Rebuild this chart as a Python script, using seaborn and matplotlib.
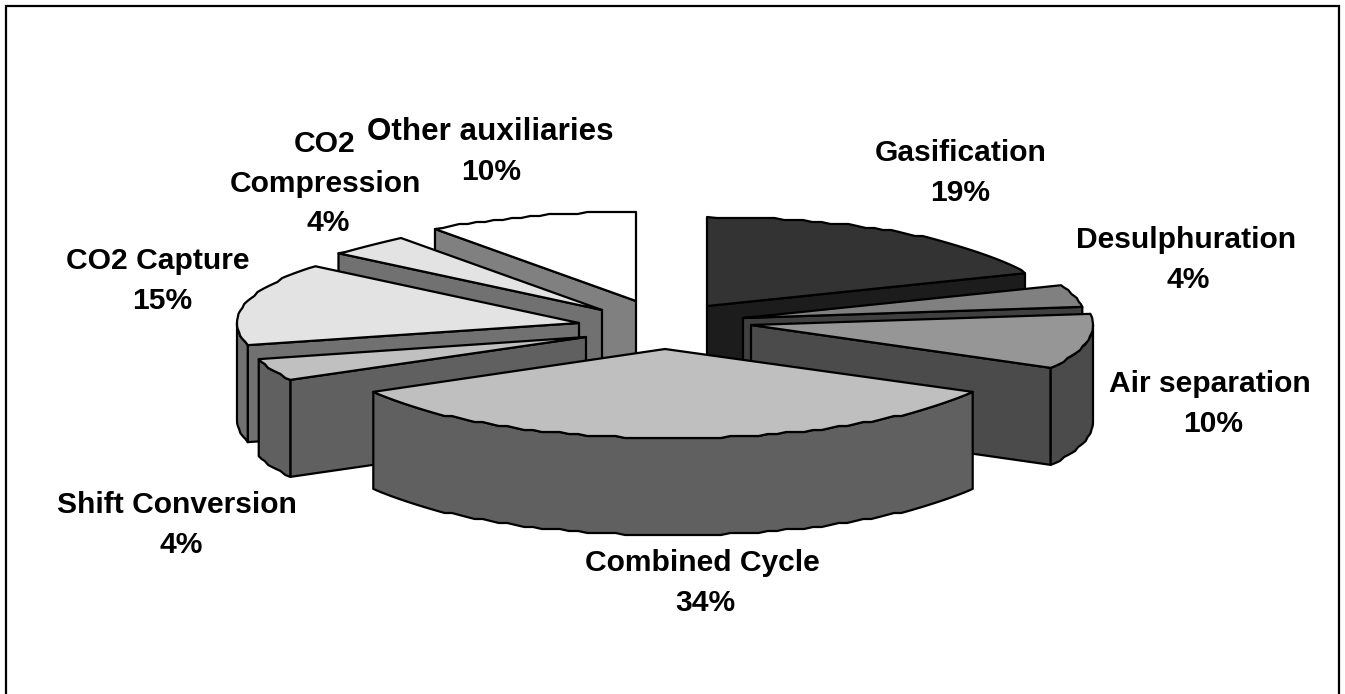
import numpy as np
import matplotlib
matplotlib.use("Agg")
import matplotlib.pyplot as plt
from matplotlib.patches import Polygon
import seaborn as sns

# --- data ---
categories = ["Gasification", "Desulphuration", "Air separation", "Combined Cycle",
              "Shift Conversion", "CO2 Capture", "CO2\nCompression", "Other auxiliaries"]
shares = [19, 4, 10, 34, 4, 15, 4, 10]

# --- styles ---
top_grays = ["#333333", "#808080", "#969696", "#bfbfbf", "#c0c0c0", "#e3e3e3", "#e3e3e3", "#ffffff"]
wall_grays = ["#1c1c1c", "#404040", "#4b4b4b", "#606060", "#606060", "#717171", "#717171", "#808080"]

# --- layout (pixel-based axes) ---
W, H = 1345, 694
CX, CY = 672, 320          # pie centre
RX, RY, DEPTH = 342, 89, 97
pull_x = [35, 71, 79, 1, -82, -93, -70, -36]    # explosion of each slice
pull_y = [-14, -2, 5, 29, 17, 3, -10, -19]
apex_skew = [0, 0, 0, -8, -4, 0, 0, 0]          # perspective shift of the slice tip
draw_order = [0, 1, 2, 7, 6, 5, 4, 3]           # painter's order
label_x = [961, 1186, 1210, 702, 177, 158, 325, 490]
pct_x = [960, 1188, 1213, 705, 181, 162, 328, 491]
label_base = [161, 248, 392, 571, 513, 269, 152, 140]   # baseline of first line
label_size = [21.6, 21.6, 21.6, 21.6, 21.6, 21.6, 21.6, 22.6]
LINE_STEP = 39.6

sns.set_theme(style="white")
plt.rcParams["font.family"] = ["Liberation Sans", "DejaVu Sans"]

fig = plt.figure(figsize=(W / 100, H / 100), dpi=100)
ax = fig.add_axes([0, 0, 1, 1])
ax.set_xlim(0, W)
ax.set_ylim(H, 0)
ax.axis("off")

EDGE = dict(edgecolor="black", linewidth=1.6, joinstyle="round")


def rim(ax0, ay0, a1, a2):
    """Slightly stepped rim points, as in the source raster."""
    n = max(2, int(abs(a2 - a1) / 1.6) + 1)
    t = np.radians(np.linspace(a1, a2, n))
    x = ax0 + RX * np.sin(t)
    y = ay0 - RY * np.cos(t)
    inner = np.arange(1, n - 1)
    y[inner] = np.round(y[inner] / 2) * 2
    return np.column_stack([x, y])


def add_poly(pts, color, z):
    ax.add_patch(Polygon(pts, closed=True, facecolor=color, zorder=z, **EDGE))


angles = np.concatenate([[0], np.cumsum(shares) * 3.6])

for z, i in enumerate(draw_order):
    a1, a2 = angles[i], angles[i + 1]
    x0, y0 = CX + pull_x[i], CY + pull_y[i]
    base = z * 10
    down = np.array([0, DEPTH])
    apex = np.array([x0 + apex_skew[i], y0])
    # visible radial cut walls
    for a, visible in ((a2, np.sin(np.radians(a2)) > 0.01), (a1, np.sin(np.radians(a1)) < -0.01)):
        if visible:
            e = rim(x0, y0, a, a)[0]
            add_poly([apex, e, e + down, apex + down], wall_grays[i], base + 1)
    # visible outer wall
    lo, hi = max(a1, 90), min(a2, 270)
    if hi > lo:
        arc = rim(x0, y0, lo, hi)
        add_poly(np.vstack([arc, (arc + down)[::-1]]), wall_grays[i], base + 2)
    # top face
    add_poly(np.vstack([apex, rim(x0, y0, a1, a2)]), top_grays[i], base + 3)

for name, v, lx, px, ly, fs in zip(categories, shares, label_x, pct_x, label_base, label_size):
    lines = name.split("\n")
    for k, line in enumerate(lines):
        ax.text(lx, ly + k * LINE_STEP, line, ha="center", va="baseline",
                fontsize=fs, fontweight="bold", color="black", zorder=200)
    ax.text(px, ly + len(lines) * LINE_STEP, f"{v}%", ha="center", va="baseline",
            fontsize=21.6, fontweight="bold", color="black", zorder=200)

# outer frame, cut by the bottom of the picture
ax.plot([5.5, 5.5, 1338.5, 1338.5], [H + 5, 5.5, 5.5, H + 5], color="black", lw=1.6, zorder=300,
        solid_joinstyle="miter")

fig.savefig("out.png", dpi=100)
